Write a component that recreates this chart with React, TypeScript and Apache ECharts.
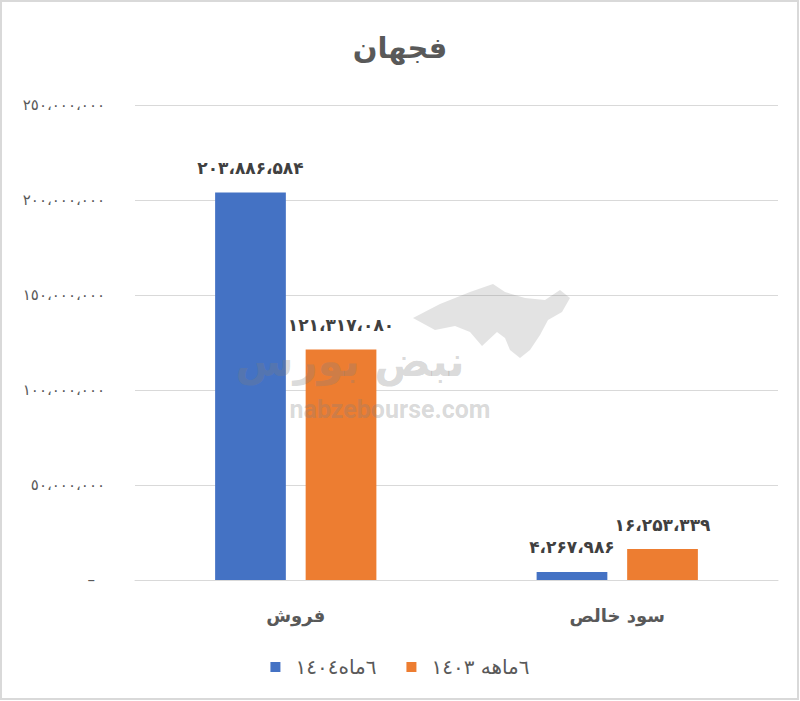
import React, { useEffect, useRef } from "react";
import * as echarts from "echarts";

const titleText = "فجهان";
const categories = ["فروش", "سود خالص"];
const seriesNames = ["٦ماه١٤٠٤", "٦ماهه ١٤٠٣"];
const values1404 = [203886584, 4267986];
const values1403 = [121317080, 16253339];
const yTickLabels = ["–", "٥٠،٠٠٠،٠٠٠", "١٠٠،٠٠٠،٠٠٠", "١٥٠،٠٠٠،٠٠٠", "٢٠٠،٠٠٠،٠٠٠", "٢٥٠،٠٠٠،٠٠٠"];
const yMax = 250000000;
const yInterval = 50000000;

const persianDigits = "۰۱۲۳۴۵۶۷۸۹";
function toPersian(n: number): string {
  const s = Math.round(n).toString().replace(/\B(?=(\d{3})+(?!\d))/g, "،");
  return s.replace(/\d/g, (d) => persianDigits[Number(d)]);
}

const FONT = "'DejaVu Sans', 'Noto Sans', sans-serif";

export default function App() {
  const ref = useRef<HTMLDivElement>(null);
  useEffect(() => {
    if (!ref.current) return;
    const chart = echarts.init(ref.current, null, { renderer: "svg" });
    const labelCfg = {
      show: true,
      position: "top",
      distance: 16,
      fontSize: 17,
      fontWeight: "bold",
      color: "#404040",
      fontFamily: FONT,
      formatter: (p: any) => toPersian(p.value),
    };
    chart.setOption({
      animation: false,
      backgroundColor: "#ffffff",
      title: {
        text: titleText,
        left: "center",
        top: 28,
        textStyle: { fontSize: 29, fontWeight: "bold", color: "#595959", fontFamily: FONT },
      },
      grid: { left: 135, right: 22, top: 105, bottom: 121, containLabel: false },
      legend: {
        data: seriesNames,
        top: 652,
        left: "center",
        icon: "rect",
        itemWidth: 10,
        itemHeight: 10,
        itemGap: 30,
        textStyle: { fontSize: 20, color: "#595959", fontFamily: FONT, padding: [0, 0, 0, 10] },
      },
      xAxis: {
        type: "category",
        data: categories,
        axisLine: { lineStyle: { color: "#d9d9d9", width: 1 } },
        axisTick: { show: false },
        axisLabel: { fontSize: 18, color: "#595959", fontWeight: "bold", margin: 26, fontFamily: FONT },
      },
      yAxis: {
        type: "value",
        min: 0,
        max: yMax,
        interval: yInterval,
        axisLine: { show: false },
        axisTick: { show: false },
        splitLine: { lineStyle: { color: "#d9d9d9", width: 1 } },
        axisLabel: {
          margin: 30,
          fontSize: 15,
          color: "#595959",
          fontFamily: FONT,
          formatter: (v: number) => {
            const idx = Math.round(v / yInterval);
            return idx === 0 ? "{z|" + yTickLabels[0] + "}" : yTickLabels[idx];
          },
          rich: { z: { padding: [0, 10, 0, 0], fontSize: 15, color: "#595959" } },
        },
      },
      series: [
        {
          name: seriesNames[0],
          type: "bar",
          data: values1404,
          barWidth: "22%",
          barGap: "28%",
          itemStyle: { color: "#4472C4" },
          label: labelCfg,
          z: 2,
        },
        {
          name: seriesNames[1],
          type: "bar",
          data: values1403,
          barWidth: "22%",
          barGap: "28%",
          itemStyle: { color: "#ED7D31" },
          label: labelCfg,
          z: 2,
        },
      ],
      graphic: [
        {
          type: "rect",
          shape: { x: 1, y: 1, width: 797, height: 698 },
          style: { fill: "none", stroke: "#d9d9d9", lineWidth: 2 },
          z: 100,
        },
        {
          type: "polygon",
          shape: {
            points: [
              [413, 318], [440, 304], [470, 292], [493, 284], [505, 292], [525, 298], [545, 300],
              [560, 290], [570, 298], [562, 312], [548, 320], [540, 335], [530, 350], [520, 358],
              [510, 350], [505, 338], [497, 332], [482, 346], [470, 332], [455, 326], [435, 330],
            ],
          },
          style: { fill: "rgba(128,128,128,0.22)" },
          z: 50,
        },
        {
          type: "text",
          x: 350,
          y: 361,
          style: {
            text: "نبض بورس",
            fontSize: 42,
            fontWeight: "bold",
            fontFamily: FONT,
            fill: "rgba(128,128,128,0.3)",
            align: "center",
            verticalAlign: "middle",
          },
          z: 50,
        },
        {
          type: "text",
          x: 390,
          y: 409,
          style: {
            text: "nabzebourse.com",
            fontSize: 25,
            fontWeight: "bold",
            fontFamily: "Roboto, 'DejaVu Sans', sans-serif",
            fill: "rgba(128,128,128,0.3)",
            align: "center",
            verticalAlign: "middle",
          },
          z: 50,
        },
      ],
    });
    return () => chart.dispose();
  }, []);
  return (
    <div
      ref={ref}
      style={{ position: "fixed", left: 0, top: 0, width: 800, height: 701 }}
    />
  );
}
